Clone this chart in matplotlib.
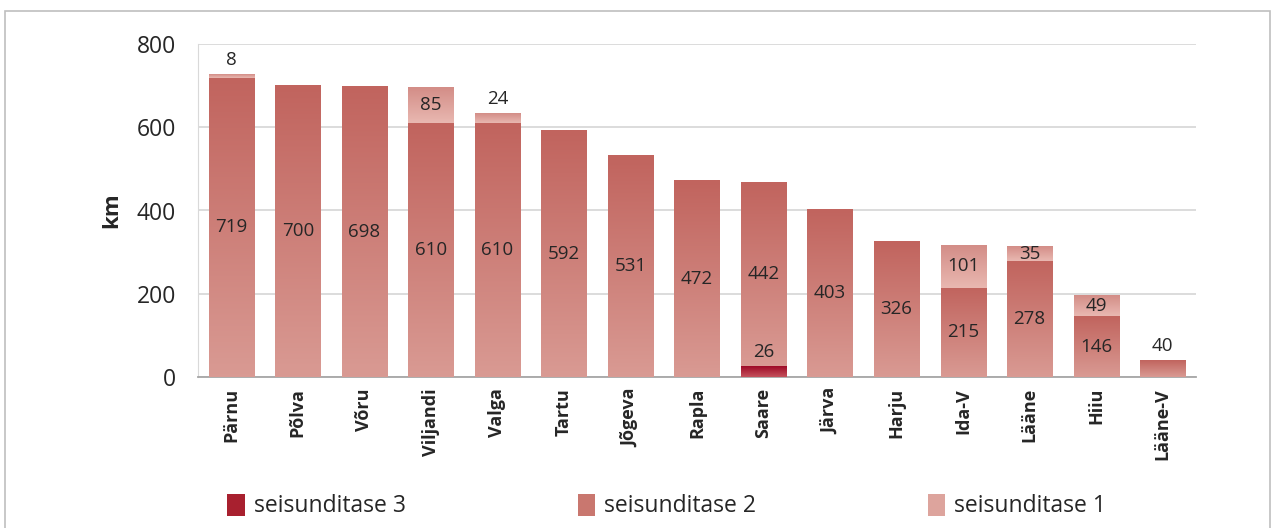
import numpy as np
import matplotlib; matplotlib.use('Agg')
import matplotlib.pyplot as plt
from matplotlib.colors import LinearSegmentedColormap
from matplotlib.patches import Patch, Rectangle

plt.rcParams['font.family'] = ['Open Sans', 'DejaVu Sans']

# data (km)
regions = ['Pärnu', 'Põlva', 'Võru', 'Viljandi', 'Valga', 'Tartu', 'Jõgeva', 'Rapla',
           'Saare', 'Järva', 'Harju', 'Ida-V', 'Lääne', 'Hiiu', 'Lääne-V']
level3 = [0, 0, 0, 0, 0, 0, 0, 0, 26, 0, 0, 0, 0, 0, 0]
level2 = [719, 700, 698, 610, 610, 592, 531, 472, 442, 403, 326, 215, 278, 146, 40]
level1 = [8, 0, 0, 85, 24, 0, 0, 0, 0, 0, 0, 101, 35, 49, 0]
series_names = ['seisunditase 3', 'seisunditase 2', 'seisunditase 1']

# gradient colours (top, bottom) per series
grads = [('#9E0A27', '#C4525C'), ('#C1645E', '#D99A93'), ('#D38D87', '#E9B8B1')]
solid = ['#A8202F', '#C9776F', '#DDA49D']
txt = '#262626'

fig = plt.figure(figsize=(12.75, 5.28), dpi=100)
ax = fig.add_axes([198/1275, 1-377/528, 998/1275, 333/528])

# outer frame
fig.patches.append(Rectangle((5/1275, -0.05), 1265/1275, 1.05-11/528, transform=fig.transFigure,
                             fill=False, edgecolor='#BFBFBF', linewidth=1.2))

x = np.arange(len(regions))
w = 0.68
grad_img = np.linspace(1, 0, 100).reshape(-1, 1)

bottom = np.zeros(len(regions))
for s, vals in enumerate([level3, level2, level1]):
    cmap = LinearSegmentedColormap.from_list('g%d' % s, [grads[s][1], grads[s][0]])
    for i, v in enumerate(vals):
        if v <= 0:
            continue
        y0, y1 = bottom[i], bottom[i] + v
        ax.imshow(grad_img, extent=[x[i]-w/2, x[i]+w/2, y0, y1], aspect='auto',
                  cmap=cmap, vmin=0, vmax=1, zorder=3, interpolation='bilinear')
        total = level3[i] + level2[i] + level1[i]
        if v < 30 or total < 50:
            ax.annotate(str(v), (x[i], y1), xytext=(0, 10), textcoords='offset points',
                        ha='center', va='center', fontsize=13.5, color=txt, zorder=5)
        else:
            ax.text(x[i], (y0 + y1) / 2, str(v), ha='center', va='center',
                    fontsize=13.5, color=txt, zorder=5)
    bottom += np.array(vals)

ax.set_xlim(-0.5, len(regions) - 0.5)
ax.set_ylim(0, 800)
ax.set_yticks([0, 200, 400, 600, 800])
ax.yaxis.grid(True, color='#D9D9D9', linewidth=1.3, zorder=0)
ax.set_axisbelow(True)
ax.tick_params(axis='y', length=0, labelsize=16.5, labelcolor=txt, pad=16)
ax.tick_params(axis='x', length=0, pad=8)
ax.set_xticks(x)
ax.set_xticklabels(regions, rotation=90, fontsize=13, fontweight='bold', color=txt)
ax.set_ylabel('km', fontsize=16, fontweight='bold', color=txt, labelpad=10)

for side in ['top', 'right']:
    ax.spines[side].set_visible(False)
ax.spines['left'].set_color('#D9D9D9')
ax.spines['bottom'].set_color('#A6A6A6')
ax.spines['bottom'].set_linewidth(1.3)

handles = [Patch(facecolor=c, edgecolor='none') for c in solid]
fig.legend(handles, series_names, loc='center', bbox_to_anchor=(0.523, 1-506/528), ncol=3,
           frameon=False, fontsize=16.5, columnspacing=7.5, handlelength=0.75, handleheight=1.1,
           handletextpad=0.4, labelcolor=txt)

plt.savefig('out.png', dpi=100)
